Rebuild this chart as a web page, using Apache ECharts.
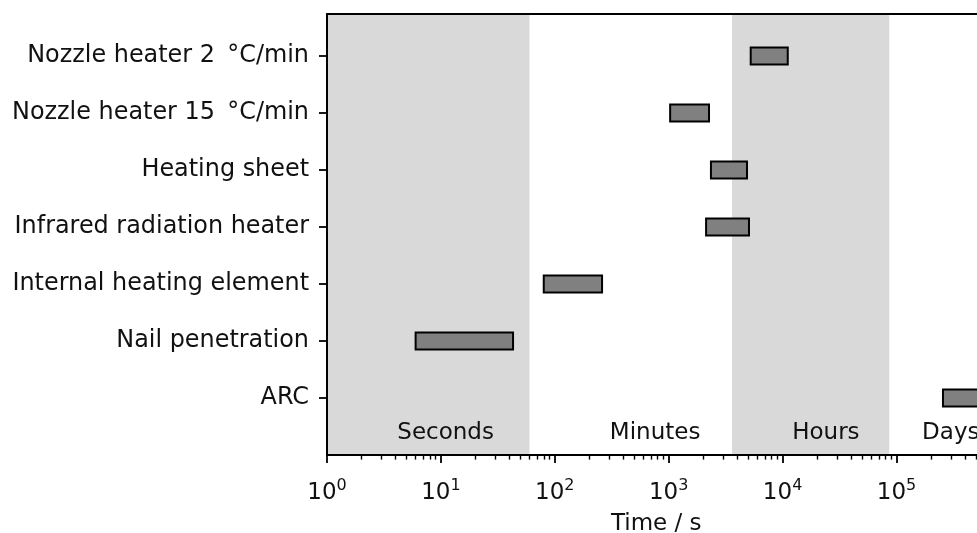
<!DOCTYPE html>
<html>
<head>
<meta charset="utf-8">
<script src="https://cdn.jsdelivr.net/npm/echarts@6/dist/echarts.min.js"></script>
<style>
html,body{margin:0;padding:0;background:#fff;}
#chart{width:977px;height:533px;}
</style>
</head>
<body>
<div id="chart"></div>
<script>
// Categories, top to bottom
const categories = [
  'Nozzle heater 2 \u2009°C/min',
  'Nozzle heater 15 \u2009°C/min',
  'Heating sheet',
  'Infrared radiation heater',
  'Internal heating element',
  'Nail penetration',
  'ARC'
];
// Time ranges in seconds (same order as categories)
const startTimes = [5250, 1030, 2350, 2130, 80, 6.0, 256000];
const endTimes   = [11100, 2260, 4870, 5070, 260, 43, 600000];

// Time-scale bands
const bandNames  = ['Seconds', 'Minutes', 'Hours', 'Days'];
const bandStarts = [1, 60, 3600, 86400];
const bandEnds   = [60, 3600, 86400, 604800];
const bandShaded = [true, false, true, false];
const bandLabelX = [11, 760, 24000, 300000];
const bandLabelY = -0.62;

// Axis ticks
const xMin = 1, xMax = 604800;
const majorTicks = [1, 10, 100, 1000, 10000, 100000];
const minorTicks = [];
for (let k = 0; k <= 5; k++) {
  for (let m = 2; m <= 9; m++) {
    const v = m * Math.pow(10, k);
    if (v <= xMax) minorTicks.push(v);
  }
}
const yMin = -1, yMax = 6.737;
const barHeight = 0.3;

const FONT = 'DejaVu Sans';
const TXT = '#111';
const n = categories.length;
const yIndex = i => n - 1 - i;

const barData = categories.map((c, i) => [yIndex(i), startTimes[i], endTimes[i]]);
const bandData = bandNames.map((b, i) => [bandStarts[i], bandEnds[i], bandShaded[i] ? 1 : 0]);
const bandLabelData = bandNames.map((b, i) => [bandLabelX[i], bandLabelY, b]);

const chart = echarts.init(document.getElementById('chart'), null, {renderer: 'canvas'});
chart.setOption({
  animation: false,
  backgroundColor: '#fff',
  textStyle: {fontFamily: FONT},
  grid: {
    left: 327, top: 14, width: 658.5, height: 441,
    containLabel: false, outerBoundsMode: 'none',
    show: false
  },
  xAxis: [{
    type: 'log', logBase: 10, min: xMin, max: xMax, position: 'bottom', z: 10,
    name: 'Time / s', nameLocation: 'middle', nameGap: 58,
    nameTextStyle: {fontSize: 23, color: TXT, fontFamily: FONT},
    axisLine: {show: true, onZero: false, lineStyle: {color: '#000', width: 2}},
    axisTick: {show: true, customValues: majorTicks, length: 8, lineStyle: {color: '#000', width: 1.8}},
    minorTick: {show: false},
    splitLine: {show: false},
    axisLabel: {
      customValues: majorTicks, margin: 23, color: TXT,
      formatter: v => '{b|10}{s|' + Math.round(Math.log10(v)) + '}',
      rich: {
        b: {fontSize: 23, lineHeight: 30, fontFamily: FONT, color: TXT},
        s: {fontSize: 16, lineHeight: 14, verticalAlign: 'top', fontFamily: FONT, color: TXT}
      }
    }
  }, {
    type: 'log', logBase: 10, min: xMin, max: xMax, position: 'bottom', z: 10,
    axisLine: {show: false, onZero: false},
    axisTick: {show: true, customValues: minorTicks, length: 4.6, lineStyle: {color: '#000', width: 1.4}},
    axisLabel: {show: false},
    splitLine: {show: false}
  }, {
    type: 'log', logBase: 10, min: xMin, max: xMax, position: 'top', z: 10,
    axisLine: {show: true, onZero: false, lineStyle: {color: '#000', width: 2}},
    axisTick: {show: false}, axisLabel: {show: false}, splitLine: {show: false}
  }],
  yAxis: [{
    type: 'value', min: yMin, max: yMax, z: 10,
    axisLine: {show: true, onZero: false, lineStyle: {color: '#000', width: 2}},
    axisTick: {show: true, customValues: [0,1,2,3,4,5,6], length: 8, lineStyle: {color: '#000', width: 1.8}},
    splitLine: {show: false},
    axisLabel: {
      customValues: [0,1,2,3,4,5,6], margin: 18, color: TXT, fontSize: 23.9, fontFamily: FONT,
      padding: [4, 0, 0, 0],
      formatter: v => { const i = n - 1 - Math.round(v); return categories[i] || ''; }
    }
  }, {
    type: 'value', min: yMin, max: yMax, position: 'right', z: 10,
    axisLine: {show: true, onZero: false, lineStyle: {color: '#000', width: 2}},
    axisTick: {show: false}, axisLabel: {show: false}, splitLine: {show: false}
  }],
  series: [{
    type: 'custom', name: 'bands', z: 1, silent: true,
    xAxisIndex: 0, yAxisIndex: 0,
    encode: {x: [0, 1]},
    data: bandData,
    renderItem: (params, api) => {
      if (!api.value(2)) return null;
      const p1 = api.coord([api.value(0), yMax]);
      const p2 = api.coord([api.value(1), yMin]);
      return {type: 'rect', shape: {x: p1[0], y: p1[1], width: p2[0] - p1[0], height: p2[1] - p1[1]},
              style: {fill: '#d9d9d9'}};
    }
  }, {
    type: 'custom', name: 'bars', z: 3, silent: true,
    xAxisIndex: 0, yAxisIndex: 0,
    encode: {x: [1, 2], y: 0},
    data: barData,
    renderItem: (params, api) => {
      const y = api.value(0);
      const p1 = api.coord([api.value(1), y + barHeight / 2]);
      const p2 = api.coord([api.value(2), y - barHeight / 2]);
      return {type: 'rect', shape: {x: p1[0], y: p1[1], width: p2[0] - p1[0], height: p2[1] - p1[1]},
              style: {fill: '#808080', stroke: '#000', lineWidth: 2}};
    }
  }, {
    type: 'custom', name: 'bandLabels', z: 4, silent: true,
    xAxisIndex: 0, yAxisIndex: 0,
    encode: {x: 0, y: 1},
    data: bandLabelData,
    renderItem: (params, api) => {
      const p = api.coord([api.value(0), api.value(1)]);
      return {type: 'text', x: p[0], y: p[1],
              style: {text: bandLabelData[params.dataIndex][2], fontSize: 23, fontFamily: FONT,
                      fill: TXT, align: 'center', verticalAlign: 'middle'}};
    }
  }]
});
</script>
</body>
</html>
